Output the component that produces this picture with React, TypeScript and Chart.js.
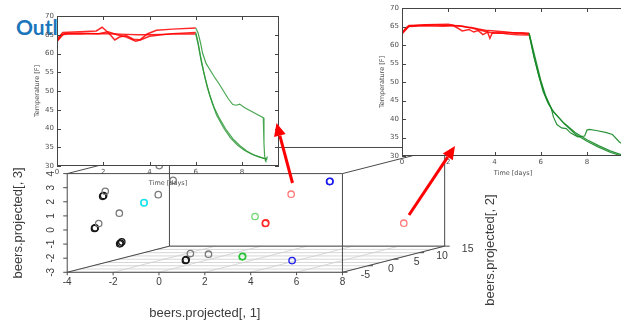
import React, { useEffect, useRef } from 'react';
import { Chart, registerables } from 'chart.js';

Chart.register(...registerables);

// ---------------- page ----------------
const PAGE_W = 621;
const PAGE_H = 324;
const titleText = 'Outline';

// ---------------- 3D scatter: beers.projected[,1..3] ----------------
const proj1Range = [-4, 8];
const proj2Range = [-5, 15];
const proj3Range = [-3, 4];
const proj1Ticks = [-4, -2, 0, 2, 4, 6, 8];
const proj2Ticks = [-5, 0, 5, 10, 15];
const proj3Ticks = [-3, -2, -1, 0, 1, 2, 3, 4];
const proj2Grid = [-5, -2.5, 0, 2.5, 5, 7.5, 10, 12.5, 15];
const axisTitle1 = 'beers.projected[, 1]';
const axisTitle2 = 'beers.projected[, 2]';
const axisTitle3 = 'beers.projected[, 3]';

type P3 = [number, number, number];
const grayPoints: P3[] = [
  [-3.01, -2, 2.47], [-2.26, 5, 1.58], [-2.28, 8, 2.32], [-2.44, 6, 3.55],
  [-2.62, -1, 0.82], [-2.85, -4, 0.36], [-1.75, 9, -2.97], [-0.85, 8.5, -2.97],
];
const blackPoints: P3[] = [
  [-2.86, -3, 2.26], [-2.9, -3, 2.2], [-2.81, -5, 0.11], [-2.78, -5, 0.16],
  [-2.34, -2, -1.2], [-2.29, -2, -1.12], [-2.38, -2, -1.26],
  [-0.85, 4, -2.99], [-0.82, 4, -2.94],
];
const cyanPoints: P3[] = [[-1.77, 0, 1.46], [-1.76, 0, 1.48]];
const greenPoints: P3[] = [[1.0, 6.8, -2.995], [1.02, 6.8, -2.96]];
const lightGreenPoints: P3[] = [[1.07, 9, -0.34]];
const redPoints: P3[] = [[1.76, 8, -0.7], [1.74, 8, -0.74]];
const lightRedPoints: P3[] = [[2.42, 10, 1.15], [6.44, 14, -1.28]];
const bluePoints: P3[] = [[3.91, 3.5, -2.96], [3.65, 12, 1.86], [3.67, 12, 1.88]];

const pointGroups: { pts: P3[]; color: string }[] = [
  { pts: grayPoints, color: '#7a7a7a' },
  { pts: blackPoints, color: '#151515' },
  { pts: cyanPoints, color: '#19e3f0' },
  { pts: greenPoints, color: '#27c236' },
  { pts: lightGreenPoints, color: '#6fd86f' },
  { pts: redPoints, color: '#ff2a2a' },
  { pts: lightRedPoints, color: '#ff7b7b' },
  { pts: bluePoints, color: '#1a1aee' },
];

// layout of the projected box (page pixels)
const BOX = { left: 63, bottom: 276, width: 280, height: 102, depthDx: 104, depthDy: 27 };

function project(x: number, y: number, z: number) {
  const fx = (x - proj1Range[0]) / (proj1Range[1] - proj1Range[0]);
  const fy = (y - proj2Range[0]) / (proj2Range[1] - proj2Range[0]);
  const fz = (z - proj3Range[0]) / (proj3Range[1] - proj3Range[0]);
  return {
    x: BOX.left + fx * BOX.width + fy * BOX.depthDx,
    y: BOX.bottom - fz * BOX.height - fy * BOX.depthDy,
  };
}

// ---------------- inset temperature curves ----------------
const insetXTicks = [0, 2, 4, 6, 8];
const insetYTicks = [30, 35, 40, 45, 50, 55, 60, 65, 70];
const insetXRange = [0, 9.6];
const insetYRange = [30, 70];
const insetXTitle = 'Time [days]';
const insetYTitle = 'Temperature [F]';

type P2 = [number, number];
// inset 1 (left)
const in1Red1: P2[] = [[0, 63.4], [0.2, 65.0], [0.5, 65.2], [1.0, 65.2], [1.5, 65.3], [2.0, 65.3], [2.5, 65.2], [3.0, 65.1], [3.5, 65.0], [4.0, 65.0], [4.5, 65.1], [5.0, 65.2], [5.5, 65.2], [6.0, 65.2]];
const in1Red2: P2[] = [[0, 63.8], [0.25, 65.6], [1.0, 65.8], [1.7, 66.0], [1.95, 67.0], [2.1, 66.2], [2.3, 65.0], [2.5, 63.6], [2.7, 64.4], [3.0, 64.8], [3.3, 63.8], [3.6, 63.7], [3.9, 65.2], [4.3, 66.2], [5.0, 66.5], [6.0, 66.8]];
const in1Red3: P2[] = [[0, 63.2], [0.3, 65.3], [1.0, 65.4], [1.8, 65.3], [2.2, 65.8], [2.6, 65.0], [3.0, 64.4], [3.4, 63.3], [3.6, 63.6], [4.0, 64.6], [5.0, 65.3], [6.0, 65.6]];
const in1Green1: P2[] = [[6.0, 66.8], [6.1, 65.5], [6.2, 63.0], [6.3, 60.0], [6.45, 57.3], [6.6, 55.8], [6.8, 53.8], [7.0, 52.0], [7.2, 50.0], [7.4, 48.0], [7.6, 46.4], [7.75, 46.2], [7.9, 46.5], [8.1, 45.6], [8.4, 44.6], [8.7, 43.6], [8.92, 42.9], [8.95, 36.0], [8.98, 32.5], [9.05, 31.0]];
const in1Green2: P2[] = [[6.0, 65.6], [6.1, 63.0], [6.2, 59.5], [6.35, 55.0], [6.5, 51.0], [6.7, 47.0], [6.9, 43.6], [7.2, 40.2], [7.5, 37.5], [7.8, 35.6], [8.1, 34.2], [8.4, 33.2], [8.7, 32.5], [9.0, 32.0], [9.1, 31.8]];
const in1Green3: P2[] = [[6.0, 65.2], [6.1, 62.5], [6.25, 57.5], [6.4, 53.5], [6.6, 49.0], [6.8, 45.5], [7.0, 43.0], [7.3, 39.8], [7.6, 37.3], [7.9, 35.5], [8.2, 34.0], [8.5, 33.0], [8.8, 32.3], [9.05, 31.8], [9.1, 32.5], [9.0, 31.3]];
// inset 2 (right)
const in2Red1: P2[] = [[0, 63.2], [0.15, 64.5], [0.3, 65.3], [1.0, 65.4], [1.5, 65.4], [2.0, 65.3], [2.5, 65.2], [2.8, 64.8], [3.0, 64.7], [3.3, 64.3], [3.6, 64.0], [4.0, 63.8], [4.5, 63.5], [5.0, 63.2], [5.5, 63.0]];
const in2Red2: P2[] = [[0, 63.4], [0.3, 65.0], [1.0, 65.2], [1.8, 65.1], [2.2, 65.3], [2.4, 64.6], [2.6, 63.8], [2.9, 64.2], [3.1, 63.5], [3.3, 63.9], [3.5, 62.8], [3.7, 63.5], [3.8, 61.8], [3.9, 63.2], [4.2, 63.3], [4.6, 63.0], [5.0, 62.8], [5.5, 62.7]];
const in2Red3: P2[] = [[0, 63.0], [0.3, 65.1], [1.0, 65.5], [2.0, 65.6], [2.3, 65.2], [2.7, 65.0], [3.0, 64.6], [3.4, 64.0], [3.8, 63.4], [4.2, 63.2], [4.7, 63.3], [5.2, 63.3], [5.5, 63.2]];
const in2Green1: P2[] = [[5.5, 63.0], [5.7, 57.0], [5.9, 52.0], [6.1, 47.5], [6.3, 44.5], [6.5, 42.3], [7.0, 38.8], [7.5, 35.9], [8.0, 34.0], [8.5, 32.4], [9.0, 31.0], [9.5, 30.0], [9.7, 29.6]];
const in2Green2: P2[] = [[5.5, 62.7], [5.72, 56.5], [5.95, 51.0], [6.15, 47.0], [6.35, 44.0], [6.55, 42.0], [7.0, 38.9], [7.5, 36.3], [8.0, 34.4], [8.5, 32.8], [9.0, 31.4], [9.5, 30.3], [9.7, 29.9]];
const in2Green3: P2[] = [[5.5, 63.2], [5.75, 56.8], [6.0, 50.5], [6.2, 46.5], [6.45, 43.0], [6.55, 40.5], [6.7, 38.5], [6.9, 37.6], [7.1, 37.4], [7.3, 36.2], [7.6, 35.2], [7.9, 35.4], [8.0, 37.0], [8.1, 37.2], [8.4, 36.9], [8.8, 36.4], [9.1, 35.8], [9.4, 33.8], [9.6, 33.0]];

// ---------------- arrows (page pixels: tail -> tip) ----------------
const arrowTails: [number, number][] = [[292.5, 183], [409, 215]];
const arrowTips: [number, number][] = [[276.5, 123], [455, 146]];

// ---------------- helpers ----------------
const LABEL_COLOR = '#3c3c3c';
const AXIS_COLOR = '#4a4a4a';

function lineDs(points: { x: number; y: number }[], color: string, width: number) {
  return {
    type: 'scatter' as const,
    data: points,
    showLine: true,
    borderColor: color,
    backgroundColor: color,
    borderWidth: width,
    pointRadius: 0,
    tension: 0,
    fill: false,
  };
}

function mainConfig(): any {
  const [x0, x1] = proj1Range;
  const [y0, y1] = proj2Range;
  const [z0, z1] = proj3Range;
  const pointDs = pointGroups.map((g) => ({
    type: 'scatter' as const,
    data: g.pts.map((p) => project(p[0], p[1], p[2])),
    showLine: false,
    pointRadius: 3.2,
    pointBorderWidth: 1.3,
    pointBorderColor: g.color,
    pointBackgroundColor: 'rgba(0,0,0,0)',
    borderColor: g.color,
    backgroundColor: 'rgba(0,0,0,0)',
  }));
  const corners: P3[][] = [
    [[x0, y0, z0], [x1, y0, z0]], [[x0, y0, z1], [x1, y0, z1]],
    [[x0, y0, z0], [x0, y0, z1]], [[x1, y0, z0], [x1, y0, z1]],
    [[x0, y1, z0], [x1, y1, z0]], [[x0, y1, z1], [x1, y1, z1]],
    [[x0, y1, z0], [x0, y1, z1]], [[x1, y1, z0], [x1, y1, z1]],
    [[x0, y0, z0], [x0, y1, z0]], [[x1, y0, z0], [x1, y1, z0]],
    [[x0, y0, z1], [x0, y1, z1]], [[x1, y0, z1], [x1, y1, z1]],
  ];
  const boxDs = corners.map((e) => lineDs(e.map((p) => project(p[0], p[1], p[2])), AXIS_COLOR, 1));
  const gridDs = [
    ...proj1Ticks.map((t) => lineDs([project(t, y0, z0), project(t, y1, z0)], '#cdcdcd', 0.8)),
    ...proj2Grid.map((d) => lineDs([project(x0, d, z0), project(x1, d, z0)], '#cdcdcd', 0.8)),
  ];
  const plugin = {
    id: 'axes3d',
    afterDatasetsDraw(chart: any) {
      const ctx = chart.ctx as CanvasRenderingContext2D;
      const sx = chart.scales.x;
      const sy = chart.scales.y;
      const px = (p: { x: number; y: number }) => ({ x: sx.getPixelForValue(p.x), y: sy.getPixelForValue(p.y) });
      const seg = (ax: number, ay: number, bx: number, by: number) => {
        ctx.beginPath(); ctx.moveTo(ax, ay); ctx.lineTo(bx, by); ctx.stroke();
      };
      ctx.save();
      ctx.strokeStyle = AXIS_COLOR;
      ctx.fillStyle = LABEL_COLOR;
      ctx.lineWidth = 1;
      ctx.font = '10px "Liberation Sans", Arial, sans-serif';
      // proj1 ticks
      ctx.textAlign = 'center';
      ctx.textBaseline = 'top';
      proj1Ticks.forEach((t) => {
        const a = px(project(t, y0, z0));
        seg(a.x, a.y, a.x, a.y + 3);
        ctx.fillText(String(t), a.x, a.y + 5);
      });
      // proj3 ticks (rotated labels)
      proj3Ticks.forEach((t) => {
        const a = px(project(x0, y0, t));
        seg(a.x - 4, a.y, a.x, a.y);
        ctx.save();
        ctx.translate(a.x - 16, a.y);
        ctx.rotate(-Math.PI / 2);
        ctx.textAlign = 'center';
        ctx.textBaseline = 'middle';
        ctx.fillText(String(t), 0, 0);
        ctx.restore();
      });
      // proj2 ticks
      ctx.font = '10.5px "Liberation Sans", Arial, sans-serif';
      ctx.textAlign = 'center';
      ctx.textBaseline = 'middle';
      proj2Ticks.forEach((t) => {
        const a = px(project(x1, t, z0));
        seg(a.x, a.y, a.x + 5, a.y);
        ctx.fillText(String(t), a.x + 23, a.y + 3);
      });
      // titles
      ctx.font = '13px "Liberation Sans", Arial, sans-serif';
      const b0 = px(project(x0, y0, z0));
      const b1 = px(project(x1, y0, z0));
      ctx.fillText(axisTitle1, (b0.x + b1.x) / 2, b0.y + 41);
      const l1 = px(project(x0, y0, z1));
      ctx.save();
      ctx.translate(b0.x - 49, (b0.y + l1.y) / 2);
      ctx.rotate(-Math.PI / 2);
      ctx.fillText(axisTitle3, 0, 0);
      ctx.restore();
      const r1 = px(project(x1, y1, z0));
      ctx.save();
      ctx.translate(r1.x + 46, r1.y + 4);
      ctx.rotate(-Math.PI / 2);
      ctx.fillText(axisTitle2, 0, 0);
      ctx.restore();
      ctx.restore();
    },
  };
  return {
    type: 'scatter',
    data: { datasets: [...pointDs, ...boxDs, ...gridDs] },
    options: {
      responsive: false,
      animation: false,
      events: [],
      layout: { padding: 0 },
      plugins: { legend: { display: false }, tooltip: { enabled: false } },
      scales: {
        x: { type: 'linear', min: 0, max: PAGE_W, display: false },
        y: { type: 'linear', min: 0, max: PAGE_H, reverse: true, display: false },
      },
    },
    plugins: [plugin],
  };
}

function insetConfig(red: P2[][], green: P2[][], greenColor: string, padding: any, rightTicks: boolean): any {
  const toXY = (arr: P2[]) => arr.map((p) => ({ x: p[0], y: p[1] }));
  const datasets = [
    ...green.map((g) => lineDs(toXY(g), greenColor, 1.2)),
    ...red.map((r) => lineDs(toXY(r), 'rgba(255,0,0,0.85)', 1.5)),
  ];
  const plugin = {
    id: 'insetAxes',
    beforeDatasetsDraw(chart: any) {
      const { ctx, chartArea: a } = chart;
      ctx.save();
      ctx.fillStyle = '#ffffff';
      ctx.fillRect(a.left, a.top, a.right - a.left, a.bottom - a.top);
      ctx.restore();
    },
    afterDatasetsDraw(chart: any) {
      const ctx = chart.ctx as CanvasRenderingContext2D;
      const a = chart.chartArea;
      const sx = chart.scales.x;
      const sy = chart.scales.y;
      ctx.save();
      ctx.strokeStyle = '#444';
      ctx.lineWidth = 1;
      ctx.strokeRect(a.left + 0.5, a.top + 0.5, a.right - a.left - 1, a.bottom - a.top - 1);
      ctx.fillStyle = '#505050';
      ctx.font = '7px "DejaVu Sans", sans-serif';
      ctx.textAlign = 'center';
      ctx.textBaseline = 'top';
      insetXTicks.forEach((t) => {
        const x = Math.round(sx.getPixelForValue(t)) + 0.5;
        ctx.beginPath();
        ctx.moveTo(x, a.bottom); ctx.lineTo(x, a.bottom - 4);
        ctx.moveTo(x, a.top); ctx.lineTo(x, a.top + 4);
        ctx.stroke();
        ctx.fillText(String(t), sx.getPixelForValue(t), a.bottom + 3);
      });
      ctx.textAlign = 'right';
      ctx.textBaseline = 'middle';
      insetYTicks.forEach((t) => {
        const y = Math.round(sy.getPixelForValue(t)) + 0.5;
        ctx.beginPath();
        ctx.moveTo(a.left, y); ctx.lineTo(a.left + 4, y);
        if (rightTicks) { ctx.moveTo(a.right, y); ctx.lineTo(a.right - 4, y); }
        ctx.stroke();
        ctx.fillText(String(t), a.left - 3, sy.getPixelForValue(t));
      });
      ctx.textAlign = 'center';
      ctx.font = '6.5px "DejaVu Sans", sans-serif';
      ctx.fillText(insetXTitle, (a.left + a.right) / 2, a.bottom + 17);
      ctx.save();
      ctx.translate(a.left - 20, (a.top + a.bottom) / 2);
      ctx.rotate(-Math.PI / 2);
      ctx.fillText(insetYTitle, 0, 0);
      ctx.restore();
      ctx.restore();
    },
  };
  return {
    type: 'scatter',
    data: { datasets },
    options: {
      responsive: false,
      animation: false,
      events: [],
      layout: { padding },
      plugins: { legend: { display: false }, tooltip: { enabled: false } },
      scales: {
        x: { type: 'linear', min: insetXRange[0], max: insetXRange[1], display: false },
        y: { type: 'linear', min: insetYRange[0], max: insetYRange[1], display: false },
      },
    },
    plugins: [plugin],
  };
}

function arrowConfig(): any {
  const plugin = {
    id: 'arrows',
    afterDraw(chart: any) {
      const ctx = chart.ctx as CanvasRenderingContext2D;
      const sx = chart.scales.x;
      const sy = chart.scales.y;
      ctx.save();
      ctx.strokeStyle = '#ff0000';
      ctx.fillStyle = '#ff0000';
      ctx.lineWidth = 3;
      arrowTails.forEach((tail, i) => {
        const tip = arrowTips[i];
        const tx = sx.getPixelForValue(tail[0]);
        const ty = sy.getPixelForValue(tail[1]);
        const hx = sx.getPixelForValue(tip[0]);
        const hy = sy.getPixelForValue(tip[1]);
        const ang = Math.atan2(hy - ty, hx - tx);
        const headLen = 13;
        const headW = 6;
        const bx = hx - headLen * Math.cos(ang);
        const by = hy - headLen * Math.sin(ang);
        ctx.beginPath();
        ctx.moveTo(tx, ty);
        ctx.lineTo(bx, by);
        ctx.stroke();
        ctx.beginPath();
        ctx.moveTo(hx, hy);
        ctx.lineTo(bx + headW * Math.sin(ang), by - headW * Math.cos(ang));
        ctx.lineTo(bx - headW * Math.sin(ang), by + headW * Math.cos(ang));
        ctx.closePath();
        ctx.fill();
      });
      ctx.restore();
    },
  };
  return {
    type: 'scatter',
    data: { datasets: [] },
    options: {
      responsive: false,
      animation: false,
      events: [],
      layout: { padding: 0 },
      plugins: { legend: { display: false }, tooltip: { enabled: false } },
      scales: {
        x: { type: 'linear', min: 0, max: PAGE_W, display: false },
        y: { type: 'linear', min: 0, max: PAGE_H, reverse: true, display: false },
      },
    },
    plugins: [plugin],
  };
}

export default function App() {
  const mainRef = useRef<HTMLCanvasElement>(null);
  const in1Ref = useRef<HTMLCanvasElement>(null);
  const in2Ref = useRef<HTMLCanvasElement>(null);
  const arrowRef = useRef<HTMLCanvasElement>(null);

  useEffect(() => {
    const charts = [
      new Chart(mainRef.current!, mainConfig()),
      new Chart(
        in1Ref.current!,
        insetConfig([in1Red1, in1Red2, in1Red3], [in1Green1, in1Green2, in1Green3], 'rgba(40,150,50,0.85)', { left: 37, top: 11, right: 11, bottom: 29 }, true)
      ),
      new Chart(
        in2Ref.current!,
        insetConfig([in2Red1, in2Red2, in2Red3], [in2Green1, in2Green2, in2Green3], 'rgba(20,135,35,0.9)', { left: 37, top: 8, right: 11, bottom: 24 }, false)
      ),
      new Chart(arrowRef.current!, arrowConfig()),
    ];
    return () => charts.forEach((c) => c.destroy());
  }, []);

  const abs = (left: number, top: number): React.CSSProperties => ({ position: 'absolute', left, top });

  return (
    <div style={{ position: 'fixed', left: 0, top: 0, width: PAGE_W, height: PAGE_H, overflow: 'hidden', background: '#ffffff' }}>
      <div
        style={{
          ...abs(16, 16),
          font: 'bold 21px Lato, "Open Sans", sans-serif',
          lineHeight: '21px',
          color: '#1a75bb',
          whiteSpace: 'nowrap',
        }}
      >
        {titleText}
      </div>
      <canvas ref={mainRef} width={PAGE_W} height={PAGE_H} style={abs(0, 0)} />
      <canvas ref={in1Ref} width={270} height={190} style={abs(20, 5)} />
      <canvas ref={in2Ref} width={270} height={180} style={abs(365, 0)} />
      <canvas ref={arrowRef} width={PAGE_W} height={PAGE_H} style={abs(0, 0)} />
    </div>
  );
}
